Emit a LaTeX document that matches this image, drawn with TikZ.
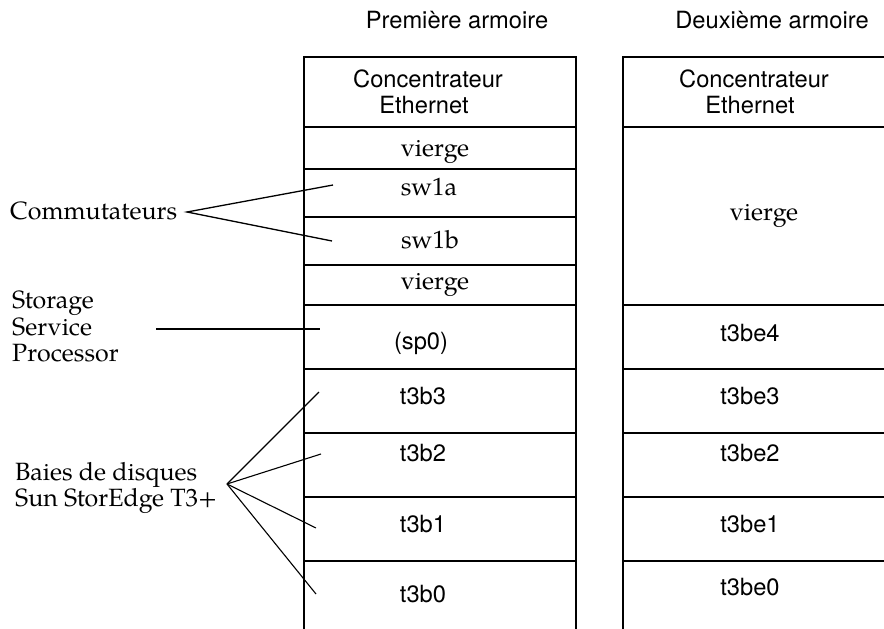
\documentclass[tikz,border=0pt]{standalone}
\usepackage{fontspec}
\setmainfont{TeX Gyre Pagella}
\newfontfamily\helv{TeX Gyre Heros}
\begin{document}
\begin{tikzpicture}[x=1pt,y=-1pt,
  frame/.style={line width=2.6pt},
  lead/.style={line width=1.3pt},
  rm/.style={font=\fontsize{25}{26}\selectfont, inner sep=0pt, anchor=base},
  sf/.style={font=\helv\fontsize{23.7}{26}\selectfont, inner sep=0pt, anchor=base},
  lbl/.style={rm, anchor=base west}]
\useasboundingbox (0,0) rectangle (884,629);

% cabinet titles
\node[sf] (t1) at (457,28) {Première armoire};
\node[sf] (t2) at (772,28) {Deuxième armoire};

% first cabinet: outline and slot dividers
\draw[frame] (304,629) -- (304,57) -- (576,57) -- (576,629);
\foreach \y in {127,169,217,265,305,369,433,497,561}
  \draw[frame] (304,\y) -- (576,\y);

% second cabinet: outline and slot dividers
\draw[frame] (623,629) -- (623,57) -- (884,57);
\foreach \y in {127,305,369,433,497,561}
  \draw[frame] (623,\y) -- (884,\y);

% first cabinet slots
\node[sf] (a1) at (428,87)  {Concentrateur};
\node[sf] (a2) at (424,113) {Ethernet};
\node[rm] (a3) at (435,156) {vierge};
\node[rm] (sw1a) at (429,195) {sw1a};
\node[rm] (sw1b) at (430,248) {sw1b};
\node[rm] (a6) at (435,289) {vierge};
\node[sf] (sp0) at (421,349) {(sp0)};
\node[sf] (t3b3) at (423,404) {t3b3};
\node[sf] (t3b2) at (423,461) {t3b2};
\node[sf] (t3b1) at (423,532) {t3b1};
\node[sf] (t3b0) at (423,602) {t3b0};

% second cabinet slots
\node[sf] (b1) at (754,87)  {Concentrateur};
\node[sf] (b2) at (750,113) {Ethernet};
\node[rm] (b3) at (764,220) {vierge};
\node[sf] (t3be4) at (750,341) {t3be4};
\node[sf] (t3be3) at (750,404) {t3be3};
\node[sf] (t3be2) at (750,461) {t3be2};
\node[sf] (t3be1) at (750,532) {t3be1};
\node[sf] (t3be0) at (750,595) {t3be0};

% callout labels on the left
\node[lbl] (com) at (10,219) {Commutateurs};
\node[lbl] (ssp1) at (12,308) {Storage};
\node[lbl] (ssp2) at (12,335) {Service};
\node[lbl] (ssp3) at (12,361) {Processor};
\node[lbl] (bay1) at (15,480) {Baies de disques};
\node[lbl] (bay2) at (15,506) {Sun StorEdge T3+};

% leader end points
\coordinate (comtip) at (187,212);
\coordinate (pa) at (333,185);
\coordinate (pb) at (332,241);
\coordinate (sspa) at (156,329);
\coordinate (sspb) at (320,329);
\coordinate (fan) at (227,484);
\coordinate (q3) at (319,392);
\coordinate (q2) at (321,454);
\coordinate (q1) at (316,528);
\coordinate (q0) at (316,594);

% leaders
\draw[lead] (pa) -- (comtip) -- (pb);
\draw[line width=2pt] (sspa) -- (sspb);
\draw[line width=1.1pt] (fan) -- (q3);
\draw[line width=1.1pt] (fan) -- (q2);
\draw[line width=1.1pt] (fan) -- (q1);
\draw[line width=1.1pt] (fan) -- (q0);
\end{tikzpicture}
\end{document}
